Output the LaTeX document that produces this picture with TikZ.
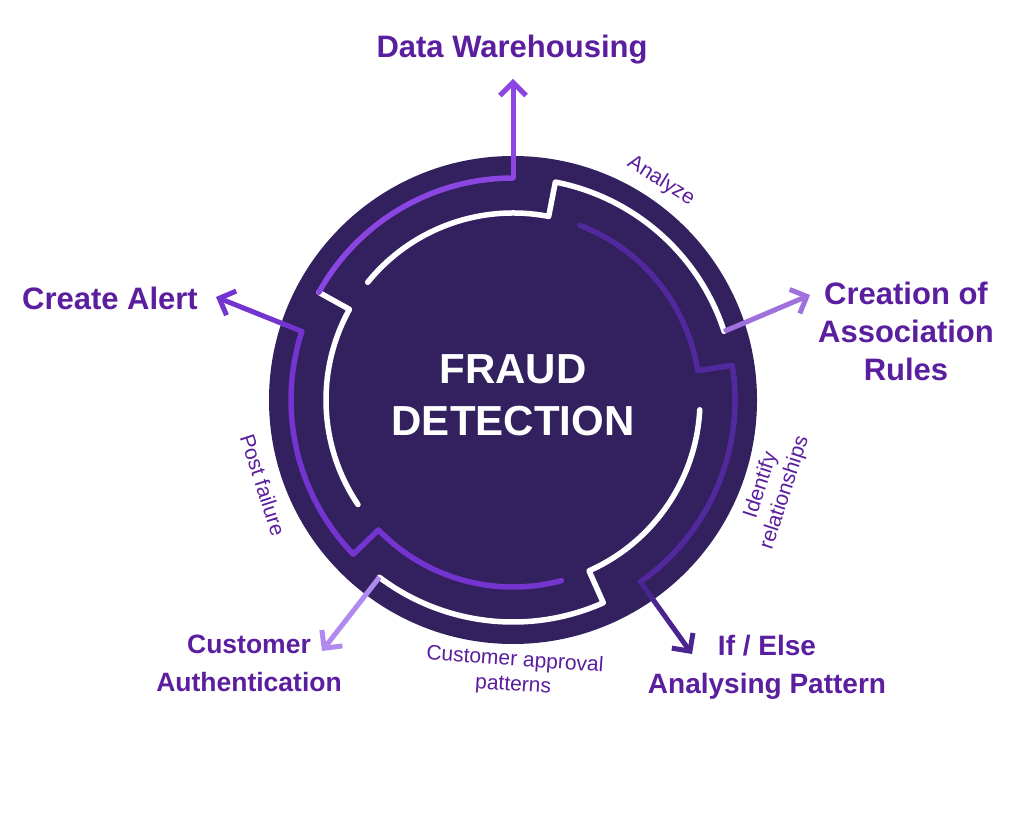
\documentclass[tikz,border=0pt]{standalone}
\usepackage{fontspec}
\setmainfont{Liberation Sans}
\usetikzlibrary{arrows.meta,calc}
\definecolor{ringdark}{HTML}{33205F}
\definecolor{lilac}{HTML}{8B45E0}
\definecolor{violet}{HTML}{7434CF}
\definecolor{plum}{HTML}{4A2590}
\definecolor{softlilac}{HTML}{B08AEF}
\definecolor{labelpurple}{HTML}{5A1E9E}
\tikzset{
  track/.style={line width=5.5pt, line cap=round, line join=round},
  outarrow/.style={line width=5pt, -{Straight Barb[length=13pt,width=26pt,line width=5pt]}},
  mainlabel/.style={text=labelpurple, font=\fontsize{31}{38}\selectfont\bfseries, align=center},
  lowlabel/.style={mainlabel, font=\fontsize{26.5}{38}\selectfont\bfseries},
  steplabel/.style={text=labelpurple, font=\fontsize{21}{25}\selectfont, align=center, inner sep=1pt}
}
\begin{document}
\begin{tikzpicture}[x=1pt,y=1pt]
	\useasboundingbox[fill=white] (0,0) rectangle (1024,819);
	\coordinate (c) at (513,419);
	\fill[ringdark] (c) circle (244pt);
	% segment to Data Warehousing
	\draw[track,white] ($(c)+(214:187pt)$) arc[start angle=214,end angle=151,radius=187pt] -- ($(c)+(151:222pt)$);
	\draw[track,lilac] ($(c)+(151:222pt)$) arc[start angle=151,end angle=90,radius=222pt];
	% segment to association rules
	\draw[track,white] ($(c)+(141:187pt)$) arc[start angle=141,end angle=79,radius=187pt] -- ($(c)+(79:222pt)$) arc[start angle=79,end angle=18,radius=222pt];
	% segment to if / else
	\draw[track,plum!80!violet] ($(c)+(69:187pt)$) arc[start angle=69,end angle=9,radius=187pt] -- ($(c)+(9:222pt)$) arc[start angle=9,end angle=-55,radius=222pt];
	% segment to customer authentication
	\draw[track,white] ($(c)+(-3:187pt)$) arc[start angle=-3,end angle=-66,radius=187pt] -- ($(c)+(-66:222pt)$) arc[start angle=-66,end angle=-127,radius=222pt];
	% segment to create alert
	\draw[track,violet] ($(c)+(-75:187pt)$) arc[start angle=-75,end angle=-136,radius=187pt] -- ($(c)+(-136:222pt)$) arc[start angle=-136,end angle=-198,radius=222pt];
	% arrow tips
	\coordinate (dwTip) at (513,740);
	\coordinate (carTip) at (810,524);
	\coordinate (ieTip) at (692,165);
	\coordinate (caTip) at (322,168);
	\coordinate (alertTip) at (216,522);
	\draw[outarrow,lilac] ($(c)+(90:222pt)$) -- (dwTip);
	\draw[outarrow,violet!70!white] ($(c)+(18:222pt)$) -- (carTip);
	\draw[outarrow,plum] ($(c)+(-55:222pt)$) -- (ieTip);
	\draw[outarrow,softlilac] ($(c)+(-127:222pt)$) -- (caTip);
	\draw[outarrow,violet] ($(c)+(162:222pt)$) -- (alertTip);
	% labels
	\node[text=white, font=\fontsize{42}{52}\selectfont\bfseries, align=center] (fraud) at (513,424) {FRAUD\\DETECTION};
	\node[mainlabel] (dw) at (512,769) {Data Warehousing};
	\node[mainlabel] (car) at (906,488) {Creation of\\Association\\Rules};
	\node[lowlabel, font=\fontsize{28}{38}\selectfont\bfseries] (ie) at (767,152) {If / Else\\Analysing Pattern};
	\node[lowlabel] (ca) at (249,156) {Customer\\Authentication};
	\node[mainlabel] (alert) at (110,521) {Create Alert};
	\node[steplabel, rotate=-32] (analyze) at (661,638) {Analyze};
	\node[steplabel, rotate=72] (ident) at (773,330) {Identify\\relationships};
	\node[steplabel, rotate=-4] (approval) at (514,146) {Customer approval\\patterns};
	\node[steplabel, rotate=-72] (post) at (263,334) {Post failure};
\end{tikzpicture}
\end{document}
